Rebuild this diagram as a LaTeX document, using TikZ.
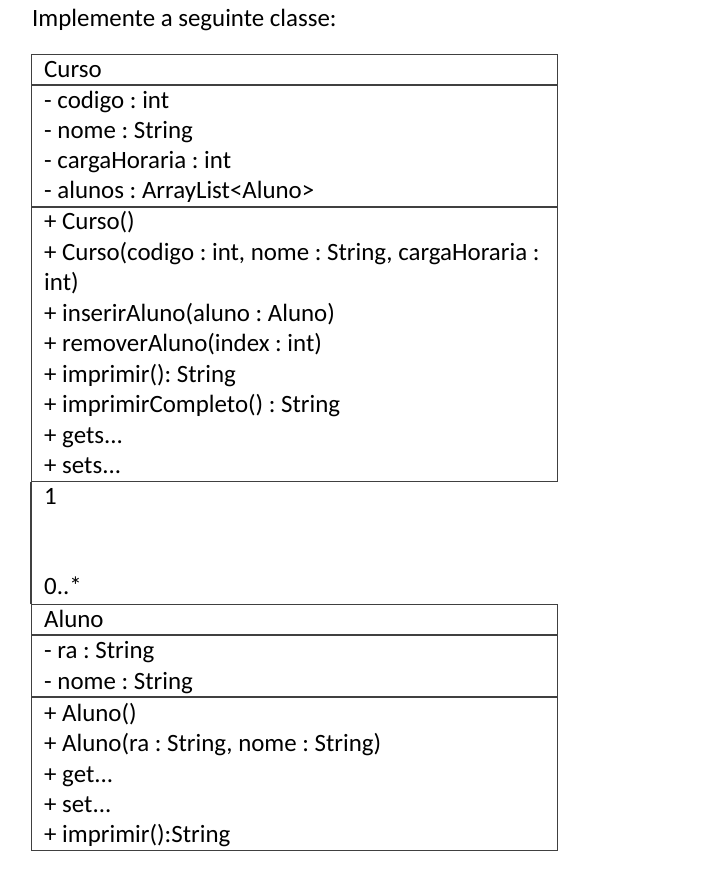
\documentclass[tikz,border=0pt]{standalone}
\usepackage{fontspec}
\setmainfont{Carlito}
\begin{document}
\frenchspacing
\begin{tikzpicture}[x=1pt,y=-1pt,
  boxline/.style={draw=black!75, line width=1.3pt},
  classbox/.style={boxline, rectangle, anchor=north west, inner sep=0pt, minimum width=526pt},
  txt/.style={anchor=base west, inner sep=0pt, font=\fontsize{24.9}{30}\selectfont\frenchspacing},
]
\useasboundingbox[fill=white] (0,0) rectangle (704,878);

\node[txt] (title) at (32,27) {Implemente a seguinte classe:};

% Curso class
\node[classbox, minimum height=427pt] (curso) at (31,54) {};
\draw[boxline] (31,85) -- (557,85);
\draw[boxline] (31,207) -- (557,207);
\node[txt] (cname) at (44,77) {Curso};
\node[txt] (ca1) at (44,108) {- codigo : int};
\node[txt] (ca2) at (44,138) {- nome : String};
\node[txt] (ca3) at (44,168) {- cargaHoraria : int};
\node[txt] (ca4) at (44,198) {- alunos : ArrayList<Aluno>};
\node[txt] (cm1) at (44,229) {+ Curso()};
\node[txt] (cm2) at (44,260) {+ Curso(codigo : int, nome : String, cargaHoraria :};
\node[txt] (cm2b) at (44,290) {int)};
\node[txt] (cm3) at (44,321) {+ inserirAluno(aluno : Aluno)};
\node[txt] (cm4) at (44,351) {+ removerAluno(index : int)};
\node[txt] (cm5) at (44,382) {+ imprimir(): String};
\node[txt] (cm6) at (44,412) {+ imprimirCompleto() : String};
\node[txt] (cm7) at (44,443) {+ gets...};
\node[txt] (cm8) at (44,473) {+ sets...};

% Aluno class
\node[classbox, minimum height=246pt] (aluno) at (31,604) {};
\draw[boxline] (31,635) -- (557,635);
\draw[boxline] (31,697) -- (557,697);
\node[txt] (aname) at (44,627) {Aluno};
\node[txt] (aa1) at (44,658) {- ra : String};
\node[txt] (aa2) at (44,689) {- nome : String};
\node[txt] (am1) at (44,721) {+ Aluno()};
\node[txt] (am2) at (44,751) {+ Aluno(ra : String, nome : String)};
\node[txt] (am3) at (44,782) {+ get...};
\node[txt] (am4) at (44,812) {+ set...};
\node[txt] (am5) at (44,842) {+ imprimir():String};

% association
\draw[boxline] (curso.south west) -- (aluno.north west);
\node[txt] (m1) at (44,504) {1};
\node[txt] (m2) at (44,594) {0..*};
\end{tikzpicture}
\end{document}
